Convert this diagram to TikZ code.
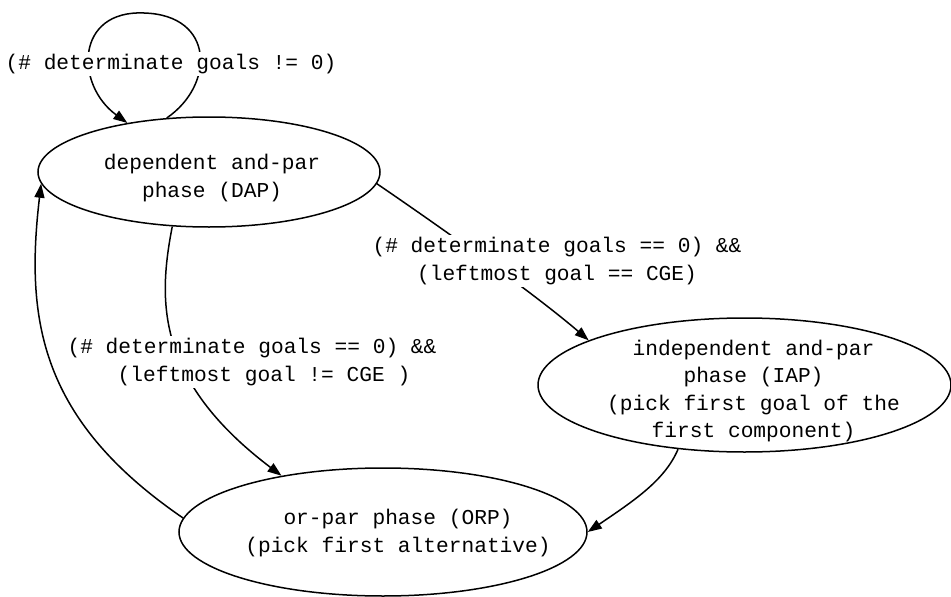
\documentclass[tikz,border=0pt]{standalone}
\usepackage{fontspec}
\setmonofont{Liberation Mono}
\usetikzlibrary{arrows.meta,shapes.geometric}

\begin{document}
\begin{tikzpicture}[x=1pt, y=-1pt, line width=1.5pt,
    >={Triangle[length=14pt,width=10pt]},
    every node/.style={font=\ttfamily\fontsize{21.2pt}{27.5pt}\selectfont},
    phase/.style={draw, ellipse, inner sep=0pt},
    phasetext/.style={align=center, inner sep=0pt},
    cond/.style={align=center, fill=white, inner sep=2pt}]
  \useasboundingbox (0,0) rectangle (951,597);
  % phases
  \node[phase, minimum width=342pt, minimum height=110pt] (dap) at (209,172) {};
  \node[phase, minimum width=413pt, minimum height=134pt] (iap) at (744.5,385) {};
  \node[phase, minimum width=408pt, minimum height=128pt] (orp) at (383,532) {};
  \node[phasetext] (daptext) at ([shift={(3,6)}]dap) {dependent and-par\\phase (DAP)};
  \node[phasetext] (iaptext) at ([shift={(9,6)}]iap) {independent and-par\\phase (IAP)\\(pick first goal of the\\first component)};
  \node[phasetext] (orptext) at ([shift={(15,1)}]orp) {or-par phase (ORP)\\(pick first alternative)};
  % transitions
  \draw[->] (dap.128) .. controls (215,85) and (215,15) .. (144,13)
            .. controls (75,10) and (75,85) .. (dap.149);
  \draw[->] (dap.356) .. controls (430,220) and (530,290) .. (iap.164);
  \draw[->] (dap.236) .. controls (158,300) and (155,380) .. (orp.151);
  \draw[->] (iap.224) .. controls (665,480) and (635,500) .. (orp.east);
  \draw[->] (orp.176) .. controls (40,420) and (25,320) .. (dap.184);
  % conditions
  \node[cond] (dapcond) at (171,64) {(\# determinate goals != 0)};
  \node[cond] (iapcond) at (557,261) {(\# determinate goals == 0) \&\&\\(leftmost goal == CGE)};
  \node[cond] (orpcond) at (252,362) {(\# determinate goals == 0) \&\&\\\hspace*{24pt}(leftmost goal != CGE )};
\end{tikzpicture}
\end{document}
